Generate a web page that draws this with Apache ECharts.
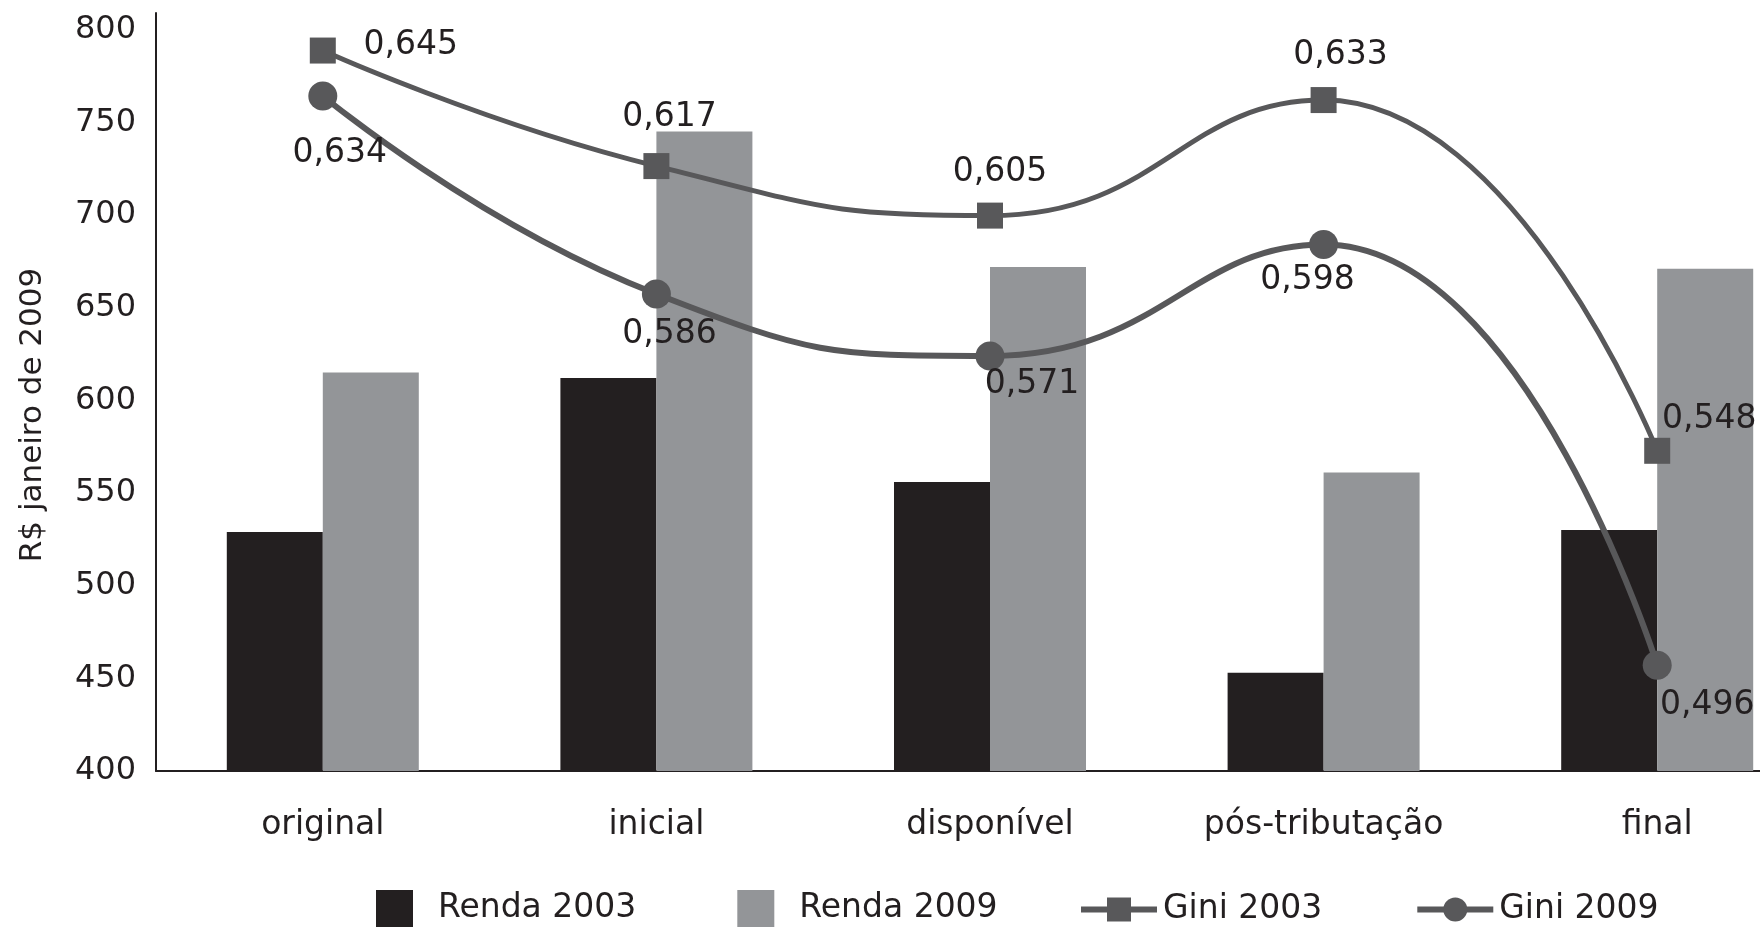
<!DOCTYPE html>
<html>
<head>
<meta charset="utf-8">
<script src="https://cdn.jsdelivr.net/npm/echarts@6/dist/echarts.min.js"></script>
<style>
  html, body { margin: 0; padding: 0; background: #fff; }
  #chart { width: 1760px; height: 927px; }
</style>
</head>
<body>
<div id="chart"></div>
<script>
const categories = ['original', 'inicial', 'disponível', 'pós-tributação', 'final'];
const renda2003 = [529, 612, 556, 453, 530];
const renda2009 = [615, 745, 672, 561, 671];
const gini2003 = [0.645, 0.617, 0.605, 0.633, 0.548];
const gini2009 = [0.634, 0.586, 0.571, 0.598, 0.496];
const yAxisName = 'R$ janeiro de 2009';

// label placement (style only)
const offsets2003 = [[88, -5], [13, -49], [10, -43], [17, -45], [52, -31]];
const offsets2009 = [[17, 57], [13, 40], [42, 29], [-16, 36], [50, 40]];

const FONT = 'DejaVu Sans';
const TXT = '#231f20';
const LINE = '#58585a';

function fmt(p) { return String(p.value).replace('.', ','); }

function lineData(values, offs) {
  return values.map((v, i) => ({
    value: v,
    label: { offset: offs[i] }
  }));
}

const chart = echarts.init(document.getElementById('chart'), null, { renderer: 'canvas' });
chart.setOption({
  animation: false,
  backgroundColor: '#ffffff',
  textStyle: { fontFamily: FONT, color: TXT },
  grid: { left: 156, width: 1668, top: 13, bottom: 156, containLabel: false, outerBoundsMode: 'none' },
  legend: [
    {
      data: ['Renda 2003', 'Renda 2009'],
      left: 376, top: 890,
      icon: 'rect',
      itemWidth: 37, itemHeight: 37, itemGap: 101,
      padding: 0,
      textStyle: { fontFamily: FONT, fontSize: 33, color: TXT, padding: [0, 0, 0, 20] }
    },
    {
      data: ['Gini 2003', 'Gini 2009'],
      left: 1078, top: 893,
      itemWidth: 76, itemHeight: 30, itemGap: 92,
      padding: 0,
      lineStyle: { width: 6 },
      textStyle: { fontFamily: FONT, fontSize: 33, color: TXT, padding: [0, 0, 0, 1] }
    }
  ],
  xAxis: {
    type: 'category',
    data: categories,
    boundaryGap: true,
    axisLine: { show: true, lineStyle: { color: TXT, width: 2 } },
    axisTick: { show: false },
    axisLabel: { fontFamily: FONT, fontSize: 33, color: TXT, margin: 38 },
    splitLine: { show: false }
  },
  yAxis: [
    {
      type: 'value',
      min: 400, max: 809, interval: 50,
      name: yAxisName,
      nameLocation: 'middle',
      nameGap: 108,
      nameTextStyle: { fontFamily: FONT, fontSize: 31, color: TXT, padding: [0, 46, 0, 0] },
      axisLine: { show: true, lineStyle: { color: TXT, width: 2 } },
      axisTick: { show: false },
      axisLabel: { fontFamily: FONT, fontSize: 32, color: TXT, margin: 20, showMaxLabel: false },
      splitLine: { show: false }
    },
    {
      type: 'value',
      min: 0.4704, max: 0.6541,
      show: false,
      splitLine: { show: false }
    }
  ],
  series: [
    {
      name: 'Renda 2003', type: 'bar', data: renda2003,
      barWidth: 96, barGap: '0%',
      itemStyle: { color: '#231f20' }, z: 2
    },
    {
      name: 'Renda 2009', type: 'bar', data: renda2009,
      barWidth: 96, barGap: '0%',
      itemStyle: { color: '#939598' }, z: 2
    },
    {
      name: 'Gini 2003', type: 'line', yAxisIndex: 1,
      data: lineData(gini2003, offsets2003),
      smooth: 0.5,
      symbol: 'rect', symbolSize: 26,
      lineStyle: { color: LINE, width: 5 },
      itemStyle: { color: LINE },
      label: { show: true, position: 'inside', formatter: fmt, fontFamily: FONT, fontSize: 33, color: TXT },
      z: 5
    },
    {
      name: 'Gini 2009', type: 'line', yAxisIndex: 1,
      data: lineData(gini2009, offsets2009),
      smooth: 0.5,
      symbol: 'circle', symbolSize: 29,
      lineStyle: { color: LINE, width: 6 },
      itemStyle: { color: LINE },
      label: { show: true, position: 'inside', formatter: fmt, fontFamily: FONT, fontSize: 33, color: TXT },
      z: 5
    }
  ]
});
</script>
</body>
</html>
